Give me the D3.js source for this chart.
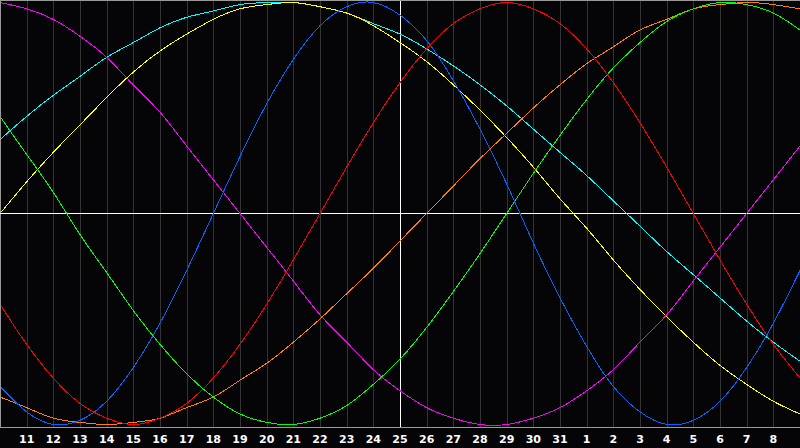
<!DOCTYPE html>
<html>
<head>
<meta charset="utf-8">
<script src="https://cdn.jsdelivr.net/npm/d3@7"></script>
<style>
  body { margin: 0; background: #050508; }
  svg { display: block; }
  .tick-label { font-family: "DejaVu Sans", sans-serif; font-weight: bold; font-size: 11px; fill: #ffffff; }
</style>
</head>
<body>
<div class="chart"></div>
<script>
// day labels along the bottom (index 0..30)
var days = [10, 11, 12, 13, 14, 15, 16, 17, 18, 19, 20, 21, 22, 23, 24, 25, 26, 27, 28, 29, 30, 31,
            1, 2, 3, 4, 5, 6, 7, 8, 9];
var todayIndex = 15;

// cycle values in percent, one per day
var physical     = [-82, -94, -100, -98, -89, -73, -52, -27, 0, 27, 52, 73, 89, 98, 100, 94, 82, 63, 40, 14, -14, -40, -63, -82, -94, -100, -98, -89, -73, -52, -27];
var emotional    = [-43, -62, -78, -90, -97, -100, -97, -90, -78, -62, -43, -22, 0, 22, 43, 62, 78, 90, 97, 100, 97, 90, 78, 62, 43, 22, 0, -22, -43, -62, -78];
var intellectual = [46, 28, 10, -10, -28, -46, -62, -76, -87, -95, -99, -100, -97, -91, -81, -69, -54, -37, -19, 0, 19, 37, 54, 69, 81, 91, 97, 100, 99, 95, 87];
var intuitive    = [100, 97, 92, 84, 74, 61, 48, 32, 16, 0, -16, -32, -48, -61, -74, -84, -92, -97, -100, -100, -97, -92, -84, -74, -61, -48, -32, -16, 0, 16, 32];
var aesthetic    = [0, 15, 29, 42, 55, 67, 77, 85, 92, 97, 99, 100, 98, 95, 89, 81, 72, 61, 49, 36, 22, 7, -7, -22, -36, -49, -61, -72, -81, -89, -95];
var awareness    = [-87, -92, -97, -99, -100, -99, -97, -92, -87, -79, -71, -61, -50, -38, -26, -13, 0, 13, 26, 38, 50, 61, 71, 79, 87, 92, 97, 99, 100, 99, 97];
var spiritual    = [35, 46, 56, 65, 74, 81, 88, 93, 96, 99, 100, 100, 98, 95, 90, 85, 78, 70, 61, 51, 40, 29, 18, 6, -6, -18, -29, -40, -51, -61, -70];

var series = [
  { name: "Spiritual",    values: spiritual,    color: "#00ffff" },
  { name: "Aesthetic",    values: aesthetic,    color: "#ffff00" },
  { name: "Intuitive",    values: intuitive,    color: "#ff00ff" },
  { name: "Awareness",    values: awareness,    color: "#ff8000" },
  { name: "Intellectual", values: intellectual, color: "#00ff00" },
  { name: "Emotional",    values: emotional,    color: "#ff0000" },
  { name: "Physical",     values: physical,     color: "#0066ff" }
];

var svgWidth = 800;
var svgHeight = 448;
var plotBottom = 427;

var svg = d3.select(".chart")
  .append("svg")
  .attr("width", svgWidth)
  .attr("height", svgHeight);

svg.append("rect")
  .attr("width", svgWidth)
  .attr("height", svgHeight)
  .attr("fill", "#050508");

var xScale = d3.scaleLinear()
  .domain([0, days.length - 1])
  .range([0, svgWidth]);

var yScale = d3.scaleLinear()
  .domain([-100, 100])
  .range([424.5, 2.5]);

var px = function(v) { return Math.round(v) + 0.5; };

// vertical day grid
svg.append("g")
  .selectAll("line")
  .data(d3.range(1, days.length - 1))
  .enter()
  .append("line")
  .attr("x1", d => px(xScale(d)))
  .attr("x2", d => px(xScale(d)))
  .attr("y1", 1)
  .attr("y2", plotBottom)
  .attr("stroke", "#343434")
  .attr("shape-rendering", "crispEdges");

// frame
var frame = svg.append("g")
  .attr("stroke", "#9a9a9a")
  .attr("shape-rendering", "crispEdges");
frame.append("line").attr("x1", 0).attr("x2", svgWidth).attr("y1", 0.5).attr("y2", 0.5);
frame.append("line").attr("x1", 0.5).attr("x2", 0.5).attr("y1", 0).attr("y2", plotBottom);
frame.append("line").attr("x1", 0).attr("x2", svgWidth).attr("y1", plotBottom + 0.5).attr("y2", plotBottom + 0.5);

// today + zero lines
svg.append("line")
  .attr("x1", 0).attr("x2", svgWidth)
  .attr("y1", px(yScale(0)) - 1).attr("y2", px(yScale(0)) - 1)
  .attr("stroke", "#ffffff")
  .attr("shape-rendering", "crispEdges");

svg.append("line")
  .attr("x1", px(xScale(todayIndex))).attr("x2", px(xScale(todayIndex)))
  .attr("y1", 1).attr("y2", plotBottom)
  .attr("stroke", "#ffffff")
  .attr("shape-rendering", "crispEdges");

// cycles
var line = d3.line()
  .x((d, i) => xScale(i))
  .y(d => yScale(d))
  .curve(d3.curveNatural);

svg.append("clipPath").attr("id", "plot")
  .append("rect").attr("x", 1).attr("y", 1).attr("width", svgWidth - 1).attr("height", plotBottom - 1);

svg.append("g")
  .attr("clip-path", "url(#plot)")
  .selectAll("path")
  .data(series)
  .enter()
  .append("path")
  .attr("d", d => line(d.values))
  .attr("fill", "none")
  .attr("stroke", d => d.color)
  .attr("stroke-width", 1)
  .attr("shape-rendering", "crispEdges");

// day labels
svg.append("g")
  .selectAll("text")
  .data(days.slice(1, days.length - 1))
  .enter()
  .append("text")
  .attr("class", "tick-label")
  .attr("x", (d, i) => xScale(i + 1))
  .attr("y", 443)
  .attr("text-anchor", "middle")
  .text(d => d);
</script>
</body>
</html>
